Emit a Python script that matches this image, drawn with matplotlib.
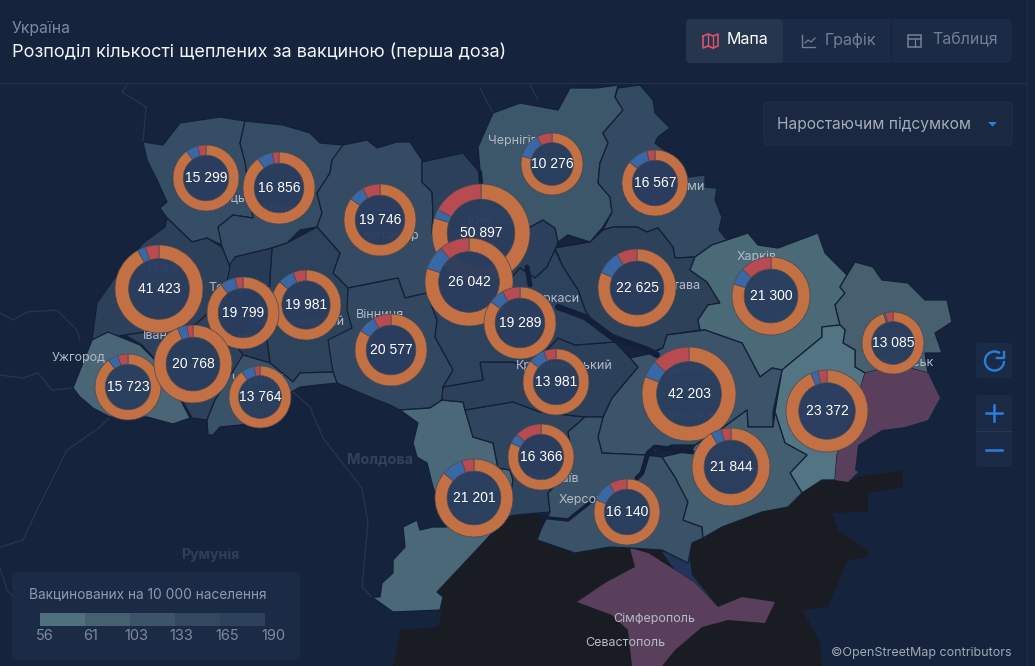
import matplotlib
matplotlib.use('Agg')
import matplotlib.pyplot as plt
from matplotlib.patches import Polygon, Circle, FancyBboxPatch, Rectangle, Arc

plt.rcParams['font.family'] = ['Inter', 'DejaVu Sans']

# 1. Map outlines
volyn = [(143,142),(163,145),(180,123),(220,117),(245,121),(240,143),(245,162),(253,218),(233,215),(218,227),(222,245),(207,238),(192,242),(167,218),(160,208),(167,202),(157,180),(147,160)]
rivne = [(245,121),(283,125),(310,133),(320,143),(343,145),(340,153),(332,160),(330,173),(317,193),(322,213),(317,227),(300,230),(287,243),(272,248),(235,257),(230,267),(222,247),(218,227),(233,215),(253,218),(245,162),(240,143)]
zhytomyr = [(343,145),(367,140),(377,148),(397,142),(410,142),(422,160),(422,182),(432,192),(433,213),(432,233),(440,257),(427,293),(405,298),(398,278),(348,288),(333,273),(340,253),(317,227),(322,213),(317,193),(330,173),(332,160)]
kyiv = [(422,162),(463,153),(480,173),(480,222),(530,227),(543,220),(555,228),(558,242),(555,250),(547,267),(535,278),(520,268),(500,290),(470,305),(440,310),(427,293),(440,257),(432,233),(433,213),(432,192),(422,182)]
chernihiv = [(493,113),(520,103),(558,110),(570,88),(597,88),(618,85),(615,97),(623,110),(617,117),(603,133),(608,143),(600,163),(598,183),(610,197),(612,212),(603,227),(590,242),(568,235),(558,242),(555,228),(543,220),(530,227),(480,222),(480,170),(478,147)]
sumy = [(618,88),(640,85),(653,100),(655,113),(670,128),(658,137),(655,143),(678,160),(688,177),(705,175),(705,187),(717,188),(715,200),(722,217),(719,230),(727,240),(712,245),(695,257),(675,258),(673,247),(658,228),(647,232),(637,227),(613,227),(603,230),(612,212),(610,197),(598,183),(600,163),(608,143),(603,133),(617,117),(623,110),(615,97)]
poltava = [(555,248),(590,242),(603,230),(613,227),(637,227),(647,232),(658,228),(673,247),(675,258),(695,257),(690,270),(707,282),(720,303),(708,305),(698,320),(700,330),(667,335),(663,348),(648,353),(613,335),(598,330),(585,310),(578,290),(563,267)]
kharkiv = [(727,240),(748,233),(758,245),(778,248),(818,233),(825,253),(847,275),(840,287),(845,293),(835,305),(840,325),(822,327),(822,337),(782,370),(772,368),(760,377),(742,343),(705,330),(700,330),(698,320),(708,305),(720,303),(707,282),(690,270),(695,257),(712,245)]
luhansk = [(847,275),(855,262),(873,267),(882,280),(908,283),(925,300),(947,300),(952,322),(935,333),(942,353),(925,353),(928,373),(898,365),(865,373),(855,367),(855,350),(843,343),(845,330),(840,325),(835,305),(845,293),(840,287)]
donetsk = [(822,327),(840,325),(845,330),(843,343),(855,350),(855,367),(865,373),(858,397),(848,427),(837,455),(835,480),(822,480),(802,493),(790,473),(807,455),(785,443),(775,412),(782,370),(822,337)]
dnipro = [(667,335),(705,330),(742,343),(760,377),(772,368),(782,370),(773,412),(773,427),(748,427),(747,410),(720,430),(695,445),(672,445),(645,455),(602,453),(598,437),(603,417),(612,398),(638,367),(630,358),(653,353),(663,348)]
vinnytsia = [(348,288),(398,278),(405,298),(427,293),(437,320),(435,337),(453,370),(443,387),(442,400),(430,408),(400,410),(390,405),(377,400),(337,383),(333,372),(328,370),(328,340)]
khmelnytskyi = [(272,248),(287,243),(317,227),(340,253),(333,273),(348,288),(347,310),(352,328),(328,340),(333,372),(300,373),(293,382),(270,363),(267,340),(270,277)]
ternopil = [(235,257),(272,248),(270,277),(267,340),(270,363),(243,355),(232,340),(223,300),(228,267)]
lviv = [(167,218),(192,242),(207,238),(222,247),(230,267),(223,300),(195,325),(125,335),(92,340),(97,303),(113,280),(143,243),(165,227)]
zakarpattia = [(92,340),(108,332),(140,345),(165,370),(190,418),(173,424),(147,417),(110,417),(93,408),(80,397),(73,388)]
ivano = [(195,325),(223,300),(232,340),(243,355),(235,385),(215,400),(207,420),(192,418),(165,370),(142,345),(125,335)]
chernivtsi = [(243,355),(270,363),(293,382),(300,373),(333,372),(337,383),(300,387),(290,393),(272,420),(240,425),(220,427),(213,435),(208,435),(207,420),(215,400)]
odesa = [(400,410),(430,408),(442,400),(463,402),(465,410),(473,437),(493,443),(498,468),(510,470),(513,480),(507,517),(483,543),(437,592),(443,597),(440,610),(393,612),(372,597),(380,597),(382,583),(393,573),(393,560),(405,547),(403,527),(417,520),(420,530),(433,527),(447,527),(433,487),(427,463),(417,457),(413,443),(418,423)]
mykolaiv = [(465,410),(513,402),(540,412),(585,417),(568,432),(573,460),(560,480),(548,493),(550,512),(515,515),(507,517),(513,480),(510,470),(498,468),(493,443),(473,437)]
kirovohrad = [(442,400),(443,387),(483,380),(480,362),(513,362),(530,368),(558,338),(575,345),(615,342),(630,358),(638,367),(612,398),(603,417),(585,417),(540,412),(513,402),(465,410),(463,402)]
cherkasy = [(427,293),(440,310),(470,305),(500,290),(520,268),(535,278),(547,267),(555,250),(563,267),(578,290),(585,310),(598,330),(615,342),(575,345),(558,338),(530,368),(513,362),(480,362),(483,380),(443,387),(453,370),(435,337),(437,320)]
kherson = [(568,432),(585,417),(603,417),(598,437),(602,453),(645,455),(662,457),(675,477),(688,502),(683,520),(702,527),(703,538),(692,543),(688,563),(662,550),(630,548),(610,547),(575,553),(537,540),(542,527),(550,512),(548,493),(560,480),(573,460)]
zaporizhzhia = [(662,457),(692,450),(695,445),(720,430),(747,410),(748,427),(773,427),(775,412),(785,443),(807,455),(790,473),(802,493),(788,507),(762,512),(722,527),(703,538),(702,527),(683,520),(688,502),(675,477)]

crimea = [(630,548),(648,553),(675,570),(695,583),(718,607),(742,597),(775,602),(765,623),(728,620),(702,627),(675,650),(662,666),(632,666),(628,630),(612,615),(577,602),(605,583),(635,567)]
donetsk_occupied = [(865,373),(898,365),(928,373),(937,392),(940,398),(928,420),(905,427),(882,430),(858,445),(855,470),(858,472),(848,482),(835,480),(837,455),(848,427),(858,397)]
black_sea = [(437,592),(510,512),(600,520),(690,520),(722,510),(790,495),(822,478),(848,482),(858,477),(902,470),(903,487),(868,493),(868,512),(832,513),(838,530),(868,550),(868,557),(848,560),(835,590),(828,607),(802,610),(820,640),(822,666),(393,666),(397,650),(400,630),(437,627),(440,620),(443,597)]
syvash = [(662,552),(688,545),(692,575),(718,607),(695,583),(675,570)]

regions = [
    (volyn, '#364d66'), (rivne, '#354c65'), (zhytomyr, '#354b63'), (kyiv, '#2c405b'),
    (chernihiv, '#3c566a'), (sumy, '#324a62'), (poltava, '#2d4159'), (kharkiv, '#4a6a78'),
    (luhansk, '#46606f'), (donetsk, '#527483'), (dnipro, '#3c5469'), (vinnytsia, '#324860'),
    (khmelnytskyi, '#2d425b'), (ternopil, '#283b56'), (lviv, '#2c4059'), (zakarpattia, '#4a6676'),
    (ivano, '#2d425a'), (chernivtsi, '#3a5268'), (odesa, '#4a6878'), (mykolaiv, '#2f455d'),
    (kirovohrad, '#2c405a'), (cherkasy, '#2d425c'), (kherson, '#3a5268'), (zaporizhzhia, '#435e6f'),
]

# Rivers and reservoirs, then the thin borders of the neighbours
rivers = [
    ([558,585,612,648,657], [307,317,337,350,355], 4.5),
    ([527,530], [267,285], 3.5),
    ([637,642,648,655,692], [478,473,453,447,452], 3.5),
    ([593,568,540], [500,520,517], 2.5),
    ([480,481], [172,184], 3.0),
]
neighbour_lines = [
    ([127,122,146,143], [85,92,107,142]),
    ([0,13,27,57,77,80], [313,320,312,310,330,340]),
    ([0,23,38,52,73], [375,378,373,390,388]),
    ([110,100,67,37,23,0], [417,427,450,510,540,547]),
    ([293,310,323,362,368,362,372], [392,407,438,488,523,587,597]),
    ([530,538], [85,100]),
    ([480,493], [88,113]),
    ([0,7,13], [568,590,597]),
]

# 2. Donuts: total, share of blue and red, the rest is orange
donut_values = [50897, 15299, 16856, 19746, 41423, 19981, 19799, 20577, 26042, 19289, 22625, 21300, 10276, 16567, 13085, 23372, 42203, 21844, 16140, 16366, 13981, 21201, 13764, 15723, 20768]
blue_share = [0.03, 0.06, 0.07, 0.07, 0.03, 0.075, 0.07, 0.08, 0.09, 0.07, 0.10, 0.07, 0.13, 0.10, 0.01, 0.03, 0.06, 0.045, 0.10, 0.05, 0.08, 0.09, 0.07, 0.05, 0.04]
red_share = [0.17, 0.04, 0.03, 0.08, 0.05, 0.06, 0.035, 0.08, 0.11, 0.08, 0.085, 0.13, 0.08, 0.04, 0.04, 0.035, 0.13, 0.04, 0.09, 0.13, 0.06, 0.05, 0.03, 0.05, 0.025]
donut_x = [481, 206, 279, 380, 159, 306, 243, 391, 469, 520, 637, 771, 552, 655, 893, 827, 689, 731, 627, 541, 556, 474, 260, 128, 193]
donut_y = [233, 178, 188, 220, 289, 305, 313, 350, 282, 323, 288, 296, 164, 183, 343, 411, 394, 467, 512, 457, 382, 498, 397, 387, 364]
donut_r = [49, 33, 36, 36, 44, 35, 36, 36, 44, 36, 39, 39, 31, 33, 31, 41, 47, 39, 33, 33, 33, 39, 31, 33, 39]

city_labels = ['Чернігів', 'Суми', 'Харків', 'Полтава', 'Луцьк', 'Рівне', 'Житомир', 'Київ', 'Львів', 'Тернопіль', 'Вінниця', 'Івано-Франківськ', 'Ужгород', 'Чернівці', 'Кропивницький', 'Черкаси', 'Дніпро', 'Запоріжжя', 'Миколаїв', 'Херсон', 'Одеса', 'Луганськ', 'Сімферополь', 'Севастополь', 'Хмельницький']
city_x = [513, 688, 757, 675, 233, 279, 391, 481, 163, 240, 380, 197, 79, 258, 564, 553, 690, 690, 551, 581, 484, 905, 654, 625, 299]
city_y = [141, 187, 257, 286, 199, 210, 236, 221, 268, 288, 314, 336, 358, 380, 366, 299, 369, 415, 479, 500, 514, 363, 619, 643, 322]

legend_ticks = ['56', '61', '103', '133', '165', '190']
legend_colors = ['#50707e', '#47606f', '#3d5468', '#344960', '#2d415a']

bg = '#16233d'
panel = '#1b2a45'

fig = plt.figure(figsize=(10.35, 6.66), dpi=100, facecolor=bg)
ax = fig.add_axes([0, 0, 1, 1])
ax.set_facecolor(bg)

# 3. Base map
ax.add_patch(Polygon(black_sea, closed=True, facecolor='#1a1c24', edgecolor='none', zorder=1))
for xs, ys in neighbour_lines:
    ax.plot(xs, ys, color='#27364f', lw=0.9, zorder=1)
ax.add_patch(Polygon(crimea, closed=True, facecolor='#5a3f5d', edgecolor='none', zorder=2))
ax.add_patch(Polygon(syvash, closed=True, facecolor='#22345a', edgecolor='none', zorder=2.5))
for shape, color in regions:
    ax.add_patch(Polygon(shape, closed=True, facecolor=color, edgecolor='#131f36', lw=0.9, zorder=3))
ax.add_patch(Polygon(donetsk_occupied, closed=True, facecolor='#5a3f5d', edgecolor='none', zorder=3.5))
for xs, ys, w in rivers:
    ax.plot(xs, ys, color='#131f38', lw=w, solid_capstyle='round', zorder=3.6)

ax.text(380, 460, 'Молдова', color='#33425c', fontsize=10.3, fontweight='bold', ha='center', va='center', zorder=4)
ax.text(210, 555, 'Румунія', color='#2f3e59', fontsize=10.2, fontweight='bold', ha='center', va='center', zorder=4)
for name, x, y in zip(city_labels, city_x, city_y):
    ax.text(x, y, name, color='#b4bac6', fontsize=9, ha='center', va='center', zorder=4)

# 4. Donuts
for i in range(len(donut_values)):
    x = donut_x[i]
    y = donut_y[i]
    r = donut_r[i]
    z = 5 + i * 0.1
    ax.add_patch(Circle((x, y), r * 0.69, facecolor='#2a3d5e', edgecolor='none', alpha=0.95, zorder=z))
    # y axis is flipped, so start at -90 and counterclock reads clockwise on screen
    ax.pie([1 - blue_share[i] - red_share[i], blue_share[i], red_share[i]],
           colors=['#c27044', '#3a68a6', '#b84a52'], center=(x, y), radius=r,
           startangle=-90, counterclock=True,
           wedgeprops=dict(width=r * 0.31, edgecolor='#4a4a50', linewidth=0.5, zorder=z + 0.01))
    label = f'{donut_values[i]:,}'.replace(',', ' ')
    ax.text(x, y, label, color='white', fontsize=10, family=['Liberation Sans', 'DejaVu Sans'],
            ha='center', va='center', zorder=20)

# 5. Header
ax.plot([0, 1027], [83, 83], color='#25344c', lw=0.8, zorder=21)
ax.plot([1027, 1027], [0, 666], color='#1d2b45', lw=0.8, zorder=21)
ax.text(12, 28, 'Україна', color='#7f8aa3', fontsize=11.3, ha='left', va='center', zorder=22)
ax.text(12, 52, 'Розподіл кількості щеплених за вакциною (перша доза)', color='#f2f4f7', fontsize=13, ha='left', va='center', zorder=22)

ax.add_patch(FancyBboxPatch((686, 19), 326, 44, boxstyle='round,pad=0,rounding_size=5', facecolor=panel, edgecolor='none', zorder=21))
ax.add_patch(FancyBboxPatch((686, 19), 97, 44, boxstyle='round,pad=0,rounding_size=5', facecolor='#27364f', edgecolor='none', zorder=21.2))
ax.plot([891, 891], [19, 63], color='#16233d', lw=0.8, zorder=21.3)
ax.text(727, 40, 'Мапа', color='white', fontsize=11.5, ha='left', va='center', zorder=22)
ax.text(825, 40, 'Графік', color='#737f96', fontsize=11.5, ha='left', va='center', zorder=22)
ax.text(932, 40, 'Таблиця', color='#737f96', fontsize=11.5, ha='left', va='center', zorder=22)

# icons
ax.plot([703, 708, 713, 718, 718, 713, 708, 703, 703], [36, 34, 36, 34, 46, 48, 46, 48, 36], color='#df5068', lw=1.2, zorder=22)
ax.plot([708, 708], [34, 46], color='#df5068', lw=1.0, zorder=22)
ax.plot([713, 713], [36, 48], color='#df5068', lw=1.0, zorder=22)
ax.plot([802, 802, 815], [35, 47, 47], color='#737f96', lw=1.0, zorder=22)
ax.plot([805, 808, 811, 815], [43, 40, 42, 38], color='#737f96', lw=0.9, zorder=22)
ax.add_patch(Rectangle((908, 35), 13, 12, fill=False, edgecolor='#737f96', lw=1.1, zorder=22))
ax.plot([908, 921], [38.5, 38.5], color='#737f96', lw=1.1, zorder=22)
ax.plot([914.5, 914.5], [38.5, 47], color='#737f96', lw=0.9, zorder=22)

# dropdown
ax.add_patch(FancyBboxPatch((764, 102), 248, 43, boxstyle='round,pad=0,rounding_size=5', facecolor='#1a2842', edgecolor='#212f4b', lw=0.8, zorder=21))
ax.text(777, 124, 'Наростаючим підсумком', color='#a5adbc', fontsize=11.2, ha='left', va='center', zorder=22)
ax.add_patch(Polygon([(988, 122), (997, 122), (992.5, 126.5)], closed=True, facecolor='#2a7fdc', edgecolor='none', zorder=22))

# zoom controls
ax.add_patch(FancyBboxPatch((976, 343), 36, 35, boxstyle='round,pad=0,rounding_size=4', facecolor=panel, edgecolor='none', zorder=21))
ax.add_patch(FancyBboxPatch((976, 395), 36, 72, boxstyle='round,pad=0,rounding_size=4', facecolor=panel, edgecolor='none', zorder=21))
ax.plot([976, 1012], [431, 431], color='#26364f', lw=0.8, zorder=22)
ax.plot([994, 994], [405, 421], color='#2a7fdc', lw=1.8, zorder=22)
ax.plot([986, 1002], [413, 413], color='#2a7fdc', lw=1.8, zorder=22)
ax.plot([986, 1002], [450, 450], color='#2a7fdc', lw=1.8, zorder=22)
ax.add_patch(Arc((994.5, 361), 19, 19, theta1=0, theta2=305, color='#2a7fdc', lw=1.7, zorder=22))
ax.plot([1004, 1004, 997], [352, 358, 358], color='#2a7fdc', lw=1.7, zorder=22)

# 6. Legend
ax.add_patch(FancyBboxPatch((12, 572), 288, 88, boxstyle='round,pad=0,rounding_size=5', facecolor=panel, edgecolor='none', zorder=21))
ax.text(29, 594, 'Вакцинованих на 10 000 населення', color='#8f9ab0', fontsize=9.85, ha='left', va='center', zorder=22)
for i, color in enumerate(legend_colors):
    ax.add_patch(Rectangle((40 + i * 45, 613), 45, 13, facecolor=color, edgecolor='none', zorder=22))
for i, tick in enumerate(legend_ticks):
    ax.text(45 + i * 45.6, 636, tick, color='#7f8aa0', fontsize=10.5, ha='center', va='center', zorder=22)

ax.text(1012, 653, '©OpenStreetMap contributors', color='#a0a8b8', fontsize=9, ha='right', va='center', zorder=22)

# pie() changes the limits, so they go last
ax.set_xlim(0, 1035)
ax.set_ylim(666, 0)
ax.set_aspect('auto')
ax.axis('off')

fig.savefig('out.png', dpi=100, facecolor=bg)
